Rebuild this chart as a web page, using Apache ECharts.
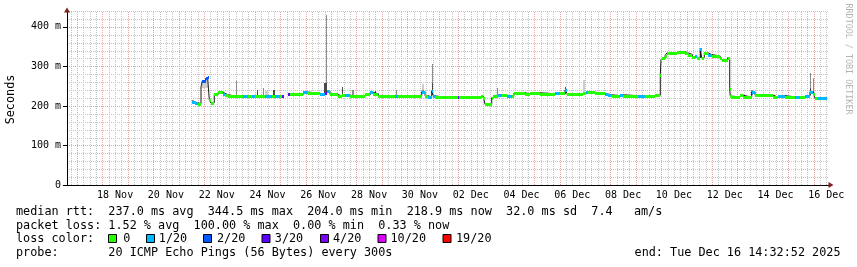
<!DOCTYPE html>
<html><head><meta charset="utf-8">
<script src="https://cdn.jsdelivr.net/npm/echarts@6/dist/echarts.min.js"></script>
<style>html,body{margin:0;padding:0;background:#fff}#c{width:857px;height:267px}</style>
</head><body><div id="c"></div>
<script>
// time unit: days since 2025-11-16 00:00
const rangeStart = 0.60616;   // Nov 16 14:32:52
const rangeEnd = 30.60616;    // Dec 16 14:32:52
const dataEnd = 30.515;

const segStart = [5.539,5.646,5.744,5.882,5.933,6.067,6.146,6.209,6.256,6.405,6.563,6.760,6.827,6.957,7.154,7.547,7.744,7.878,8.008,8.205,8.402,8.677,8.795,8.992,9.071,9.150,9.307,9.386,9.910,10.106,10.567,10.764,10.831,10.961,11.287,11.421,11.551,11.748,11.945,12.339,12.535,12.665,12.862,13.520,13.638,14.571,14.701,14.831,14.964,15.027,15.094,15.488,16.012,16.051,16.906,16.996,17.063,17.327,17.390,17.587,17.720,17.917,18.114,18.205,18.638,18.835,19.228,19.819,20.016,20.213,20.291,20.933,21.039,21.130,21.394,21.787,21.906,22.063,22.378,22.508,23.087,23.362,23.756,23.964,23.992,24.043,24.150,24.228,24.610,24.937,25.067,25.224,25.331,25.398,25.539,25.594,25.697,25.854,25.988,26.315,26.382,26.618,26.697,26.720,26.748,27.102,27.232,27.563,27.693,28.413,28.610,28.874,29.267,29.464,29.661,29.858,29.988,30.055,30.173];
const segMedian = [210,208,206,248,263,270,274,215,208,230,234,229,228,226,225,226,225,225,225,224,225,225,225,225,225,null,230,230,235,232,229,233,237,229,225,228,227,226,225,229,234,231,225,225,225,236,226,222,238,226,222,223,223,222,224,220,204,221,225,227,227,225,226,233,231,233,231,232,232,240,231,233,235,234,232,230,228,226,228,226,225,225,227,278,318,320,327,334,337,334,330,324,325,322,345,322,334,330,326,322,316,322,244,225,223,227,222,235,227,222,226,223,222,222,225,236,230,219,219];
const segLoss = [1,1,0,1,2,2,2,0,0,0,0,1,0,0,0,1,0,1,0,0,1,0,1,0,3,null,3,0,1,0,1,4,1,0,0,0,1,0,0,0,1,0,0,1,0,1,0,1,1,1,0,0,3,0,0,0,0,0,0,1,0,1,0,0,0,0,0,1,0,1,0,0,1,0,0,1,1,0,1,0,1,0,0,0,0,0,0,0,0,0,0,0,1,0,1,0,0,1,0,0,0,0,0,0,0,0,0,1,0,0,1,0,1,0,1,1,0,0,1];

const smokeStart = [5.54,5.93,7.26,8.08,8.31,8.41,8.72,10.74,10.79,11.43,11.83,12.73,13.56,14.57,14.57,14.96,14.96,17.53,20.21,20.93,25.53,27.54,29.86,29.86,29.99];
const smokeEnd   = [5.60,6.17,7.30,8.14,8.35,8.52,8.80,10.83,10.83,11.47,11.90,12.77,13.60,14.66,14.66,15.01,15.01,17.59,20.25,21.01,25.58,27.62,29.90,29.90,30.03];
const smokeLo    = [208,245,226,226,225,228,225,228,258,225,226,231,225,240,230,226,260,227,230,233,322,228,245,228,225];
const smokeHi    = [216,265,264,240,245,238,240,258,430,247,241,238,240,256,240,260,307,245,248,265,345,240,282,245,270];
const smokeLevel = [2,1,2,3,2,1,3,3,2,3,2,3,2,1,2,3,2,2,3,1,3,2,2,3,2];

const xTickLabels = ['18 Nov','20 Nov','22 Nov','24 Nov','26 Nov','28 Nov','30 Nov','02 Dec','04 Dec','06 Dec','08 Dec','10 Dec','12 Dec','14 Dec','16 Dec'];
const xTickDays = [2.5,4.5,6.5,8.5,10.5,12.5,14.5,16.5,18.5,20.5,22.5,24.5,26.5,28.5,30.5];
const yTickValues = [0,100,200,300,400];

const lossLabels = ['0','1/20','2/20','3/20','4/20','10/20','19/20'];
const lossLevels = [0,1,2,3,4,10,19];
const lossColors = ['#26ff00','#00b8ff','#0059ff','#5e00ff','#7e00ff','#dd00ff','#ff0000'];

const statsLine1 = 'median rtt:  237.0 ms avg  344.5 ms max  204.0 ms min  218.9 ms now  32.0 ms sd  7.4   am/s';
const statsLine2 = 'packet loss: 1.52 % avg  100.00 % max  0.00 % min  0.33 % now';
const probeLine = 'probe:       20 ICMP Echo Pings (56 Bytes) every 300s';
const endLine = 'end: Tue Dec 16 14:32:52 2025';

// ---- build ----
const MONO = '"DejaVu Sans Mono", monospace';
const Y_MAX = 440;
const colorOfLoss = l => lossColors[Math.max(0, lossLevels.indexOf(l))];
const segRows = [];
const lineData = [];
for (let i = 0; i < segStart.length; i++) {
  const end = i + 1 < segStart.length ? segStart[i + 1] : dataEnd;
  if (segMedian[i] != null) segRows.push([segStart[i], end, segMedian[i], segLoss[i]]);
  lineData.push([segStart[i], segMedian[i]]);
}
lineData.push([dataEnd, segMedian[segMedian.length - 1]]);
const smokeRows = smokeStart.map((s, i) => [s, smokeEnd[i], smokeLo[i], smokeHi[i], smokeLevel[i]]);
const smokeColors = {1: '#cdcdcd', 2: '#8c8c8c', 3: '#4a4a4a'};

// grid lines: [orientation (0 vertical / 1 horizontal), value, major?]
const gridMinor = [], gridMajor = [];
for (let q = 0; q <= 31 * 4; q++) {
  const d = q / 4;
  if (d <= rangeStart || d >= rangeEnd) continue;
  (q % 4 === 0 ? gridMajor : gridMinor).push([0, d, q % 4 === 0 ? 1 : 0]);
}
for (let v = 20; v <= Y_MAX; v += 20) {
  (v % 100 === 0 ? gridMajor : gridMinor).push([1, v, v % 100 === 0 ? 1 : 0]);
}
const gridRows = gridMinor.concat(gridMajor);

const chart = echarts.init(document.getElementById('c'), null, {renderer: 'canvas'});
const xBase = {type: 'value', min: rangeStart, max: rangeEnd, position: 'bottom'};
const yBase = {type: 'value', min: 0, max: Y_MAX, position: 'left'};

const graphics = [];
const txt = (text, x, y, extra) => Object.assign({type: 'text', x: x, y: y, silent: true,
  style: Object.assign({text: text, font: '11.8px ' + MONO, fill: '#000', verticalAlign: 'middle', align: 'left'}, extra || {})});
graphics.push(txt(statsLine1, 16, 212));
graphics.push(txt(statsLine2, 16, 225.7));
graphics.push(txt('loss color:', 16, 239.3));
graphics.push(txt(probeLine, 16, 253.3));
graphics.push(txt(endLine, 840.5, 253.3, {align: 'right'}));
const boxX = [108, 146, 203, 261.5, 320, 377.5, 442.5];
const textX = [123.2, 158.8, 217, 274.8, 333, 390.5, 456];
lossLabels.forEach((lab, i) => {
  graphics.push({type: 'rect', silent: true, shape: {x: boxX[i] + 0.5, y: 234.5, width: 8, height: 8},
    style: {fill: lossColors[i], stroke: '#000', lineWidth: 1}});
  graphics.push(txt(lab, textX[i], 239.3));
});
graphics.push({type: 'text', x: 10.8, y: 99.5, rotation: Math.PI / 2, silent: true,
  style: {text: 'Seconds', font: '11.8px ' + MONO, fill: '#000', align: 'center', verticalAlign: 'middle'}});
graphics.push({type: 'text', x: 848, y: 59, rotation: -Math.PI / 2, silent: true,
  style: {text: 'RRDTOOL / TOBI OETIKER', font: '8.4px ' + MONO, fill: '#b4b4b4', align: 'center', verticalAlign: 'middle'}});

chart.setOption({
  animation: false,
  backgroundColor: '#ffffff',
  grid: {left: 67, right: 28, top: 11, bottom: 82, containLabel: false, outerBoundsMode: 'none'},
  xAxis: [
    Object.assign({}, xBase, {z: 3, axisLine: {show: true, onZero: false, lineStyle: {color: '#000', width: 1}},
      axisTick: {show: false}, axisLabel: {show: false}, splitLine: {show: false}}),
    Object.assign({}, xBase, {z: 4,
      axisLine: {show: true, onZero: false, symbol: ['none', 'triangle'], symbolSize: [6, 5], symbolOffset: [0, 2],
        lineStyle: {color: '#801f1f', width: 0}},
      axisTick: {show: false},
      splitLine: {show: false},
      axisLabel: {show: true, customValues: xTickDays, margin: 10, verticalAlign: 'middle',
        fontFamily: MONO, fontSize: 10, color: '#000',
        formatter: v => { const k = xTickDays.findIndex(d => Math.abs(d - v) < 1e-6); return k >= 0 ? xTickLabels[k] : ''; }}})
  ],
  yAxis: [
    Object.assign({}, yBase, {z: 3, axisLine: {show: true, onZero: false, lineStyle: {color: '#000', width: 1}},
      axisTick: {show: false}, axisLabel: {show: false}, splitLine: {show: false}}),
    Object.assign({}, yBase, {z: 3,
      axisLine: {show: true, onZero: false, symbol: ['none', 'triangle'], symbolSize: [6, 5], symbolOffset: [0, 1],
        lineStyle: {color: '#801f1f', width: 0}},
      axisTick: {show: true, customValues: yTickValues, length: 4, inside: false, lineStyle: {color: '#000'}},
      splitLine: {show: false},
      axisLabel: {show: true, customValues: yTickValues, margin: 6, fontFamily: MONO, fontSize: 10, color: '#000',
        formatter: v => v === 0 ? '0' : v + ' m'}})
  ],
  graphic: graphics,
  series: [
    {
      type: 'custom', name: 'grid', xAxisIndex: 0, yAxisIndex: 0, clip: true, z: 0, silent: true,
      data: gridRows,
      renderItem: (params, api) => {
        const o = api.value(0), v = api.value(1), major = api.value(2);
        let a, b;
        if (o === 0) { a = api.coord([v, 0]); b = api.coord([v, Y_MAX]); const x = Math.round(a[0]) + 0.5; a[0] = x; b[0] = x; }
        else { a = api.coord([rangeStart, v]); b = api.coord([rangeEnd, v]); const y = Math.round(a[1]) + 0.5; a[1] = y; b[1] = y; }
        return {type: 'line', shape: {x1: a[0], y1: a[1], x2: b[0], y2: b[1]},
          style: {stroke: major ? '#e9a3a3' : '#c4c4c4', lineWidth: 1, lineDash: [1, 1]}};
      }
    },
    {
      type: 'custom', name: 'smoke', xAxisIndex: 0, yAxisIndex: 0, clip: true, z: 2,
      data: smokeRows,
      renderItem: (params, api) => {
        const p0 = api.coord([api.value(0), api.value(3)]);
        const p1 = api.coord([api.value(1), api.value(2)]);
        const x0 = Math.round(p0[0]);
        const w = Math.max(1, Math.round(p1[0]) - x0);
        return {type: 'rect', shape: {x: x0, y: Math.round(p0[1]), width: w, height: Math.max(1, Math.round(p1[1] - p0[1]))},
          style: {fill: smokeColors[api.value(4)]}};
      }
    },
    {
      type: 'line', name: 'median', xAxisIndex: 0, yAxisIndex: 0, step: 'end', showSymbol: false, z: 3,
      connectNulls: false, data: lineData, lineStyle: {color: '#1a1a1a', width: 1}
    },
    {
      type: 'custom', name: 'loss', xAxisIndex: 0, yAxisIndex: 0, clip: true, z: 4,
      data: segRows,
      renderItem: (params, api) => {
        const p0 = api.coord([api.value(0), api.value(2)]);
        const p1 = api.coord([api.value(1), api.value(2)]);
        const x0 = Math.round(p0[0]);
        const w = Math.max(1, Math.round(p1[0]) - x0);
        return {type: 'rect', shape: {x: x0, y: Math.round(p0[1]) - 1, width: w, height: 3},
          style: {fill: colorOfLoss(api.value(3))}};
      }
    }
  ]
});
</script>
</body></html>
